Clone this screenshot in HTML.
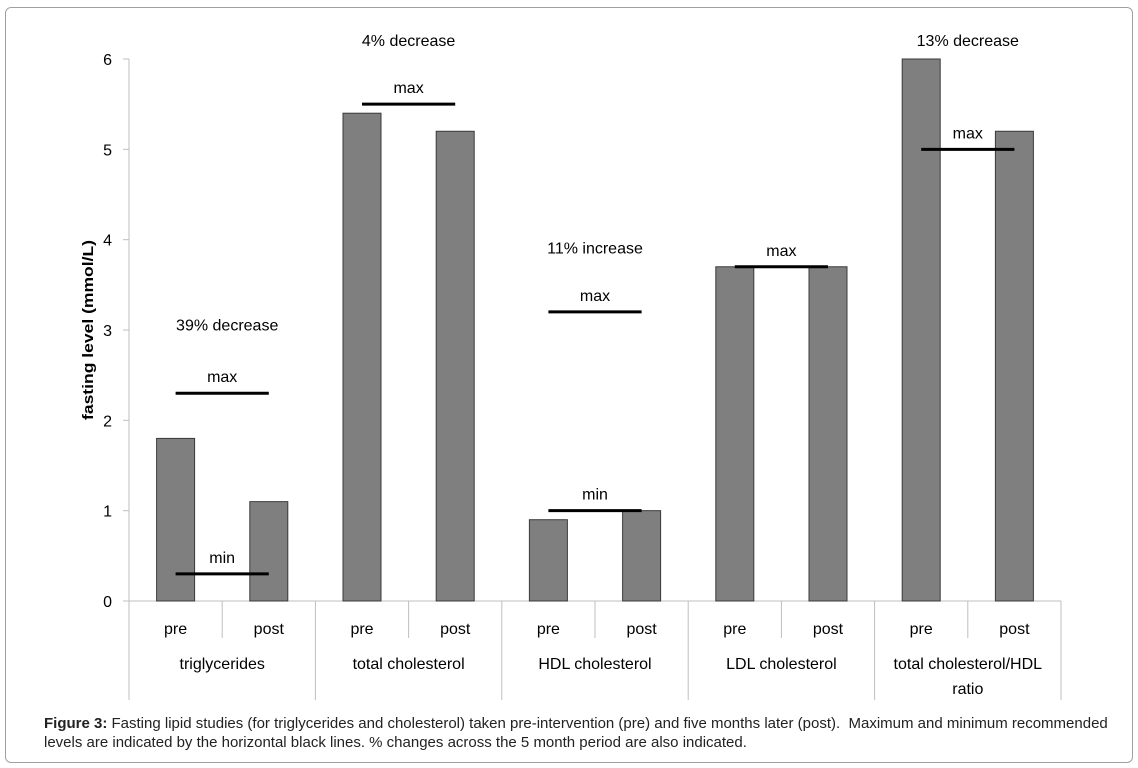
<!DOCTYPE html>
<html><head><meta charset="utf-8"><style>
body{margin:0;background:#fff;width:1138px;height:768px;overflow:hidden;font-family:"Liberation Sans",sans-serif}
#frame{position:absolute;left:5px;top:7px;width:1126px;height:754px;border:1px solid #a0a0a0;border-radius:6px}
#caption{position:absolute;left:44px;top:714px;font-size:15px;line-height:19px;color:#222;width:1100px;white-space:nowrap}
</style></head><body>
<div id="frame"></div>
<svg id="chart" width="1138" height="768" style="position:absolute;left:0;top:0"></svg>
<div id="caption"><b>Figure 3:</b> Fasting lipid studies (for triglycerides and cholesterol) taken pre-intervention (pre) and five months later (post).&nbsp; Maximum and minimum recommended<br>levels are indicated by the horizontal black lines. % changes across the 5 month period are also indicated.</div>
<script>
const groups=["triglycerides","total cholesterol","HDL cholesterol","LDL cholesterol","total cholesterol/HDL|ratio"];
const subs=["pre","post"];
const preVals=[1.8,5.4,0.9,3.7,6.0];
const postVals=[1.1,5.2,1.0,3.7,5.2];
const maxVals=[2.3,5.5,3.2,3.7,5.0];
const minVals=[0.3,null,1.0,null,null];
const noteVals=[3.05,6.2,3.9,null,6.2];
const notesText=["39% decrease","4% decrease","11% increase","","13% decrease"];
const yTicks=[0,1,2,3,4,5,6];

const svg=document.getElementById('chart');
const NS="http://www.w3.org/2000/svg";
const x0=129,x1=1061,y0=601,yTop=59;
const gw=(x1-x0)/groups.length, sw=gw/2, bw=38;
const Y=v=>y0-(y0-yTop)*v/6;
const subCenter=(g,s)=>x0+g*gw+s*sw+sw/2;
function mk(tag,attrs,txt){const e=document.createElementNS(NS,tag);for(const k in attrs)e.setAttribute(k,attrs[k]);if(txt!=null)e.textContent=txt;svg.appendChild(e);return e;}
const F='"Liberation Sans",sans-serif';
const FS=16;

let ax=mk('line',{x1:x0,y1:Y(6),x2:x0,y2:y0,stroke:'#bfbfbf'});


yTicks.forEach(t=>{
 let l=mk('line',{x1:x0-6,y1:Y(t),x2:x0,y2:Y(t),stroke:'#bfbfbf'});
 
 
 let tx=mk('text',{x:112,y:Y(t)+6,'text-anchor':'end','font-size':16,'font-family':F,fill:'#000'},t);
 
 
});
let yt=mk('text',{x:0,y:0,transform:'translate(93,330) rotate(-90)','text-anchor':'middle','font-size':15,'font-weight':'bold','font-family':F,textLength:180,lengthAdjust:'spacingAndGlyphs'},'fasting level (mmol/L)');


let xa=mk('line',{x1:x0,y1:y0,x2:x1,y2:y0,stroke:'#bfbfbf'});



groups.forEach((g,i)=>{
 const gx=x0+i*gw;
 let sep=mk('line',{x1:gx,y1:y0,x2:gx,y2:700,stroke:'#bfbfbf'});
 
 
 let ss=mk('line',{x1:gx+sw,y1:y0,x2:gx+sw,y2:638,stroke:'#bfbfbf'});
 
 
 [preVals[i],postVals[i]].forEach((v,s)=>{
  const cx=subCenter(i,s);
  let b=mk('rect',{x:cx-bw/2,y:Y(v),width:bw,height:y0-Y(v),fill:'#7f7f7f',stroke:'#3a3a3a','stroke-width':1});
  
  
  let st=mk('text',{x:cx,y:634,'text-anchor':'middle','font-size':FS,'font-family':F},subs[s]);
  
  
 });
 const parts=g.split('|');
 parts.forEach((p,k)=>{
  let gt=mk('text',{x:gx+gw/2,y:669+k*25,'text-anchor':'middle','font-size':FS,'font-family':F},p);
  
  
 });
 const lx1=subCenter(i,0),lx2=subCenter(i,1);
 [[maxVals[i],'max'],[minVals[i],'min']].forEach(([v,lab])=>{
  if(v==null)return;
  let l=mk('line',{x1:lx1,y1:Y(v),x2:lx2,y2:Y(v),stroke:'#000','stroke-width':3});
  
  
  let t=mk('text',{x:(lx1+lx2)/2,y:Y(v)-11,'text-anchor':'middle','font-size':FS,'font-family':F},lab);
  
  
 });
 if(notesText[i]&&noteVals[i]!=null){
  let n=mk('text',{x:gx+gw/2+(i==0?5:0),y:Y(noteVals[i])+5,'text-anchor':'middle','font-size':FS,'font-family':F},notesText[i]);
  
  
 }
});
let last=mk('line',{x1:x1,y1:y0,x2:x1,y2:700,stroke:'#bfbfbf'});


</script>
</body></html>
